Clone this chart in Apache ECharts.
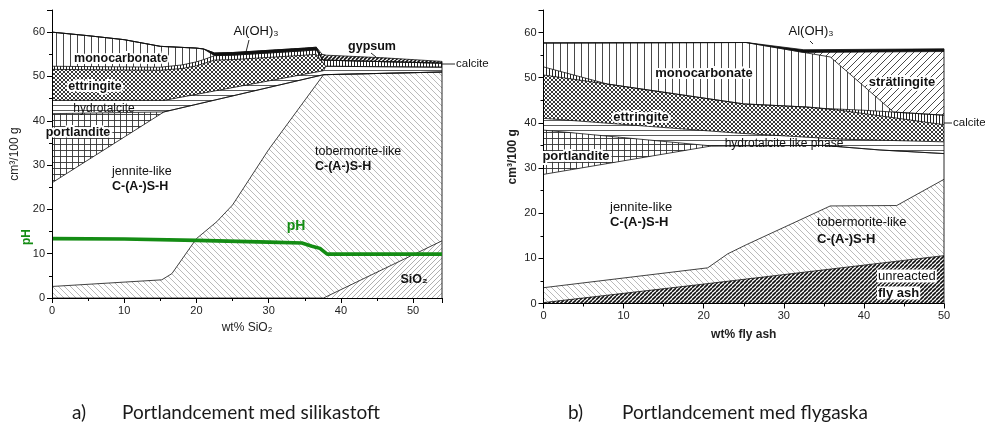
<!DOCTYPE html>
<html>
<head>
<meta charset="utf-8">
<script src="https://cdn.jsdelivr.net/npm/echarts@6/dist/echarts.min.js"></script>
<style>
  html, body { margin: 0; padding: 0; background: #fff; }
  #chart { width: 985px; height: 439px; }
</style>
</head>
<body>
<div id="chart"></div>
<script>
// ---------------------------------------------------------------
// Phase assemblage, cm³ per 100 g binder. Each array holds the
// cumulative upper boundary of one phase as [wt% addition, volume].
// ---------------------------------------------------------------

// a) Portland cement + silica fume (wt% SiO2)
const sfGypsum        = [[0,60],[5,59.2],[10,58.3],[15,56.8],[20,56.4],[21,56.2],[22.5,55.3],[25,55.4],[30,55.9],[35,56.4],[36.6,56.6],[37.4,55.0],[38,54.8],[46,54.2],[54,53.4]];
const sfAlOH3         = [[0,60],[5,59.2],[10,58.3],[15,56.8],[20,56.4],[21,56.2],[22.5,55.3],[25,55.4],[30,55.9],[35,56.4],[36.6,56.6],[37.5,53.7],[54,53.0]];
const sfMonocarbonate = [[0,60],[5,59.2],[10,58.3],[15,56.8],[20,56.4],[21,56.2],[22.5,54.7],[25,54.8],[30,55.3],[35,55.8],[36.6,56.0],[37.5,53.7],[54,53.0]];
const sfCalcite       = [[0,52.3],[15,52.1],[18,52.6],[20,53.3],[21,53.8],[22.5,54.7],[25,54.8],[30,55.3],[35,55.8],[36.6,56.0],[37.5,53.7],[54,53.0]];
const sfEttringite    = [[0,51.6],[15,51.4],[18,51.8],[20,52.4],[22.5,53.7],[25,53.8],[30,54.3],[35,54.8],[36.6,55.0],[37.9,52.3],[54,52.1]];
const sfHydrotalcite  = [[0,44.6],[15.5,44.6],[37.6,51.3],[37.9,52.3],[54,52.1]];
const sfPortlandite   = [[0,41.6],[15.5,42.0],[37.6,50.4],[54,51.0]];
const sfJennite       = [[0,26.0],[15.5,42.0],[37.6,50.4],[54,51.0]];
const sfTobermorite   = [[0,2.6],[15.2,4.1],[16.6,5.5],[20,13.4],[22.8,17.2],[25,21.0],[30,33.5],[37.6,50.4],[54,51.0]];
const sfSiO2          = [[0,0],[37.6,0],[54,12.9]];
const sfPH            = [[0,13.4],[10,13.3],[20,13.0],[30,12.6],[34.6,12.4],[36,11.7],[37.1,11.2],[38.1,9.9],[54,9.9]];

// b) Portland cement + fly ash (wt% fly ash)
const faAlOH3         = [[0,57.7],[25.3,57.8],[32.5,56.2],[50,56.4]];
const faStratlingite  = [[0,57.7],[25.3,57.8],[32.5,55.6],[50,55.8]];
const faMonocarbonate = [[0,57.7],[25.3,57.8],[32.5,55.6],[35.8,54.6],[43.7,42.4],[50,41.7]];
const faCalcite       = [[0,52.4],[8,48.6],[25,44.2],[33,43.5],[35,43.2],[40,42.8],[43.7,42.4],[50,41.7]];
const faEttringite    = [[0,50.6],[8,48.6],[25,44.2],[33,43.5],[37,42.8],[50,39.6]];
const faHydrotalcite  = [[0,41.0],[24.5,37.7],[37,36.4],[50,35.8]];
const faPortlandite   = [[0,38.4],[21,34.9],[35,35.0],[42,34.0],[50,33.2]];
const faJennite       = [[0,28.6],[21,34.9],[35,35.0],[42,34.0],[50,33.2]];
const faTobermorite   = [[0,3.5],[20.5,7.9],[23,11.0],[25.3,13.0],[35.8,21.6],[44.1,21.7],[50,27.5]];
const faFlyAsh        = [[0,0.2],[20,4.3],[50,10.6]];

// Axis ranges
const sfXMax = 54, faXMax = 50, yMax = 65, xStep = 10, yStep = 10;

// ---------------------------------------------------------------
// Hatch fills (white background so lower phases cover upper ones)
// ---------------------------------------------------------------
function hatch(size, draw) {
  const c = document.createElement('canvas');
  c.width = size; c.height = size;
  const g = c.getContext('2d');
  g.fillStyle = '#fff';
  g.fillRect(0, 0, size, size);
  draw(g, size);
  return { image: c, repeat: 'repeat' };
}
function strokeWith(g, color, w, path) {
  g.strokeStyle = color; g.lineWidth = w; g.beginPath(); path(); g.stroke();
}
const diagDown = (s, color, w) => hatch(s, (g) => strokeWith(g, color, w, () => {
  for (let k = -1; k <= 1; k++) { g.moveTo(k * s, 0); g.lineTo(k * s + s, s); }
}));
const diagUp = (s, color, w) => hatch(s, (g) => strokeWith(g, color, w, () => {
  for (let k = -1; k <= 1; k++) { g.moveTo(k * s, s); g.lineTo(k * s + s, 0); }
}));
const vertical = (s, color, w) => hatch(s, (g) => strokeWith(g, color, w, () => {
  g.moveTo(0.5, 0); g.lineTo(0.5, s);
}));
const horizontal = (s, color, w) => hatch(s, (g) => strokeWith(g, color, w, () => {
  g.moveTo(0, 0.5); g.lineTo(s, 0.5);
}));
const grid = (s, color, w) => hatch(s, (g) => strokeWith(g, color, w, () => {
  g.moveTo(0.5, 0); g.lineTo(0.5, s); g.moveTo(0, 0.5); g.lineTo(s, 0.5);
}));
const crossDiag = (s, color, w) => hatch(s, (g) => strokeWith(g, color, w, () => {
  g.moveTo(0, 0); g.lineTo(s, s); g.moveTo(s, 0); g.lineTo(0, s);
}));

const fills = {
  monocarbonate: vertical(7, '#333', 0.9),
  calcite: vertical(3, '#222', 1),
  ettringite: crossDiag(4, '#222', 0.9),
  hydrotalcite: horizontal(5, '#333', 0.8),
  portlandite: grid(6, '#333', 0.9),
  jennite: '#fff',
  tobermorite: diagDown(6, '#a8a8a8', 0.8),
  sio2: diagUp(5, '#9a9a9a', 0.8),
  gypsum: diagUp(4, '#111', 1.6),
  alOH3: '#111',
  stratlingite: diagUp(7, '#333', 0.9),
  flyash: diagUp(4, '#111', 1.6)
};

// ---------------------------------------------------------------
// Series helpers
// ---------------------------------------------------------------
function layer(idx, name, data, fill, lineWidth) {
  return {
    type: 'line', name, xAxisIndex: idx, yAxisIndex: idx, data,
    symbol: 'none', silent: true, animation: false, z: 2,
    lineStyle: { color: '#111', width: lineWidth || 0.8 },
    areaStyle: { color: fill, opacity: 1 }
  };
}
function edge(idx, top) {
  const last = top[top.length - 1];
  return {
    type: 'line', xAxisIndex: idx, yAxisIndex: idx,
    data: [[last[0], 0], [last[0], last[1]]],
    symbol: 'none', silent: true, animation: false, z: 3,
    lineStyle: { color: '#111', width: 0.9 }
  };
}

const series = [
  // a) drawn top phase first
  layer(0, 'gypsum', sfGypsum, fills.gypsum),
  layer(0, 'Al(OH)3', sfAlOH3, fills.alOH3),
  layer(0, 'monocarbonate', sfMonocarbonate, fills.monocarbonate),
  layer(0, 'calcite', sfCalcite, fills.calcite),
  layer(0, 'ettringite', sfEttringite, fills.ettringite),
  layer(0, 'hydrotalcite', sfHydrotalcite, fills.hydrotalcite),
  layer(0, 'portlandite', sfPortlandite, fills.portlandite),
  layer(0, 'jennite-like C-(A-)S-H', sfJennite, fills.jennite),
  layer(0, 'tobermorite-like C-(A-)S-H', sfTobermorite, fills.tobermorite),
  layer(0, 'SiO2', sfSiO2, fills.sio2),
  edge(0, sfGypsum),
  {
    type: 'line', name: 'pH', xAxisIndex: 0, yAxisIndex: 0, data: sfPH,
    symbol: 'none', silent: true, animation: false, z: 5,
    lineStyle: { color: '#148c14', width: 3.6 }
  },
  // b)
  layer(1, 'Al(OH)3', faAlOH3, fills.alOH3),
  layer(1, 'strätlingite', faStratlingite, fills.stratlingite),
  layer(1, 'monocarbonate', faMonocarbonate, fills.monocarbonate),
  layer(1, 'calcite', faCalcite, fills.calcite),
  layer(1, 'ettringite', faEttringite, fills.ettringite),
  layer(1, 'hydrotalcite like phase', faHydrotalcite, fills.hydrotalcite),
  layer(1, 'portlandite', faPortlandite, fills.portlandite),
  layer(1, 'jennite-like C-(A-)S-H', faJennite, fills.jennite),
  layer(1, 'tobermorite-like C-(A-)S-H', faTobermorite, fills.tobermorite),
  layer(1, 'unreacted fly ash', faFlyAsh, fills.flyash),
  edge(1, faAlOH3)
];

// ---------------------------------------------------------------
// Axes
// ---------------------------------------------------------------
const FONT = '"Liberation Sans", Arial, sans-serif';
const axisLine = { show: true, onZero: false, lineStyle: { color: '#000', width: 1 } };
function xAxis(idx, max, name, bold, gap) {
  return {
    type: 'value', gridIndex: idx, min: 0, max, interval: xStep, z: 10,
    axisLine, splitLine: { show: false },
    axisTick: { show: true, length: 5, lineStyle: { color: '#000' } },
    minorTick: { show: true, splitNumber: 2, length: 3, lineStyle: { color: '#000' } },
    axisLabel: { color: '#222', fontSize: 11, fontFamily: FONT, margin: 7, showMaxLabel: max % xStep === 0 },
    name, nameLocation: 'middle', nameGap: gap,
    nameTextStyle: { color: '#222', fontSize: 12, fontFamily: FONT, fontWeight: bold ? 'bold' : 'normal' }
  };
}
function yAxis(idx, bold, gap) {
  return {
    type: 'value', gridIndex: idx, min: 0, max: yMax, interval: yStep, z: 10,
    axisLine, splitLine: { show: false },
    axisTick: { show: true, length: 5, lineStyle: { color: '#000' } },
    minorTick: { show: true, splitNumber: 2, length: 3, lineStyle: { color: '#000' } },
    axisLabel: { color: '#222', fontSize: 11, fontFamily: FONT, margin: 7, showMaxLabel: false },
    name: 'cm³/100 g', nameLocation: 'middle', nameGap: gap, nameRotate: 90,
    nameTextStyle: { color: '#222', fontSize: 12, fontFamily: FONT, fontWeight: bold ? 'bold' : 'normal' }
  };
}

// ---------------------------------------------------------------
// Annotations (pixel placement)
// ---------------------------------------------------------------
const graphics = [];
function label(x, y, text, opts) {
  opts = opts || {};
  const font = (opts.bold ? 'bold ' : '') + (opts.size || 12) + 'px ' + FONT;
  const base = { text, x: 0, y: 0, font, align: opts.align || 'center', verticalAlign: 'middle' };
  if (opts.halo) {
    graphics.push({ type: 'text', x, y, z: 20, rotation: opts.rot || 0,
      style: Object.assign({}, base, { fill: '#fff', stroke: '#fff', lineWidth: 4, lineJoin: 'round' }) });
  }
  const st = Object.assign({}, base, { fill: opts.color || '#111' });
  if (opts.bg) { st.backgroundColor = '#fff'; st.padding = [0, 1, 0, 1]; }
  graphics.push({ type: 'text', x, y, z: 21, rotation: opts.rot || 0, style: st });
}
function leader(x1, y1, x2, y2) {
  graphics.push({ type: 'line', z: 21, shape: { x1, y1, x2, y2 }, style: { stroke: '#111', lineWidth: 0.9 } });
}

// a)
label(121, 59, 'monocarbonate', { bold: true, halo: true, size: 12.5 });
label(95, 87, 'ettringite', { bold: true, halo: true, size: 12.5 });
label(104, 109, 'hydrotalcite', { size: 12 });
label(78, 133, 'portlandite', { bold: true, halo: true, size: 12.5 });
label(112, 172, 'jennite-like', { align: 'left', size: 12.5 });
label(112, 187, 'C-(A-)S-H', { align: 'left', bold: true, size: 12.5 });
label(315, 152, 'tobermorite-like', { align: 'left', size: 12.5 });
label(315, 167, 'C-(A-)S-H', { align: 'left', bold: true, size: 12.5 });
label(296, 226, 'pH', { bold: true, size: 14, color: '#148c14' });
label(414, 280, 'SiO₂', { bold: true, size: 12.5 });
label(256, 31, 'Al(OH)₃', { size: 13 });
leader(249, 40, 246, 52);
label(372, 47, 'gypsum', { bold: true, size: 12.5 });
leader(371, 53, 376, 57);
leader(442, 64, 455, 64);
label(456, 64, 'calcite', { align: 'left', size: 11.5 });
label(27, 237, 'pH', { bold: true, size: 12, color: '#148c14', rot: Math.PI / 2 });

// b)
label(811, 31, 'Al(OH)₃', { size: 13 });
leader(810, 41, 813, 44);
label(704, 73, 'monocarbonate', { bold: true, halo: true, size: 13 });
label(902, 82, 'strätlingite', { bold: true, halo: true, size: 13 });
label(641, 117, 'ettringite', { bold: true, halo: true, size: 13 });
leader(944, 123, 952, 123);
label(953, 123, 'calcite', { align: 'left', size: 11.5 });
label(784, 144, 'hydrotalcite like phase', { size: 12 });
label(576, 156, 'portlandite', { bold: true, halo: true, size: 13 });
label(610, 207, 'jennite-like', { align: 'left', size: 13 });
label(610, 222, 'C-(A-)S-H', { align: 'left', bold: true, size: 13 });
label(817, 222, 'tobermorite-like', { align: 'left', size: 13 });
label(817, 239, 'C-(A-)S-H', { align: 'left', bold: true, size: 13 });
label(877, 276, 'unreacted', { align: 'left', size: 13, bg: true });
label(877, 293, 'fly ash', { align: 'left', bold: true, size: 13, bg: true });

// captions
const CAP = '19px Lato, "Open Sans", sans-serif';
[[72, 'a)'], [122, 'Portlandcement med silikastoft'], [568, 'b)'], [622, 'Portlandcement med flygaska']]
  .forEach(([x, t]) => graphics.push({ type: 'text', x, y: 413, z: 21,
    style: { text: t, font: CAP, fill: '#1a1a1a', align: 'left', verticalAlign: 'middle' } }));

const chart = echarts.init(document.getElementById('chart'), null, { renderer: 'canvas' });
chart.setOption({
  backgroundColor: '#fff',
  animation: false,
  grid: [
    { left: 52, top: 10, width: 390, height: 288 },
    { left: 543.5, top: 10, width: 400.5, height: 293.5 }
  ],
  xAxis: [xAxis(0, sfXMax, 'wt% SiO₂', false, 24), xAxis(1, faXMax, 'wt% fly ash', true, 25)],
  yAxis: [yAxis(0, false, 31), yAxis(1, true, 25)],
  series,
  graphic: graphics
});
</script>
</body>
</html>
